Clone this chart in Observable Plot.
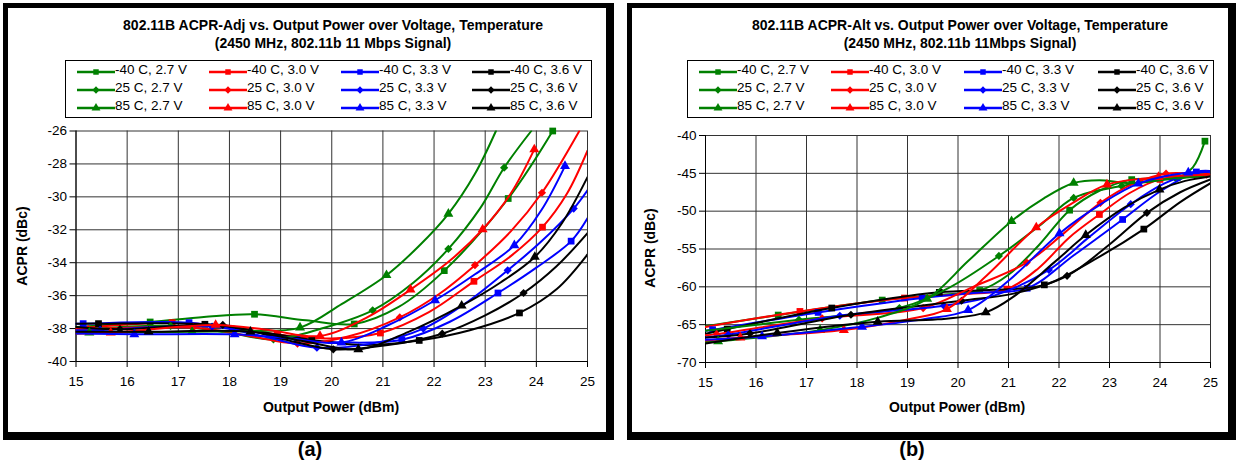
<!DOCTYPE html>
<html><head><meta charset="utf-8">
<script src="https://cdn.jsdelivr.net/npm/d3@7"></script>
<script src="https://cdn.jsdelivr.net/npm/@observablehq/plot@0.6"></script>
<style>
body{margin:0;background:#fff}
#root{position:relative;width:1236px;height:466px;overflow:hidden;font-family:"Liberation Sans",Arial,sans-serif;color:#000;background:#fff}
.frame{position:absolute;box-sizing:border-box;border-style:solid;border-color:#000;border-width:5px 8px 8px 5px}
.t{position:absolute;white-space:nowrap;transform:translate(-50%,-50%);line-height:1}
.b{font-weight:bold}
.lgbox{position:absolute;box-sizing:border-box;border:1px solid #000;background:#fff}
.lgtext{position:absolute;white-space:nowrap;font-size:13.5px;line-height:1;transform:translateY(-50%)}
.lgsym{position:absolute}
.chart{position:absolute}
</style></head>
<body><div id="root"></div>
<script>
// ---------- shared categories ----------
const seriesNames = ["-40 C, 2.7 V","-40 C, 3.0 V","-40 C, 3.3 V","-40 C, 3.6 V",
                     "25 C, 2.7 V","25 C, 3.0 V","25 C, 3.3 V","25 C, 3.6 V",
                     "85 C, 2.7 V","85 C, 3.0 V","85 C, 3.3 V","85 C, 3.6 V"];
const seriesColors = ["#008000","#ff0000","#0000ff","#000000",
                      "#008000","#ff0000","#0000ff","#000000",
                      "#008000","#ff0000","#0000ff","#000000"];
const seriesSymbols = ["square","square","square","square",
                       "diamond2","diamond2","diamond2","diamond2",
                       "triangle","triangle","triangle","triangle"];
const xTicks = [15,16,17,18,19,20,21,22,23,24,25];
const yTicksAdj = [-40,-38,-36,-34,-32,-30,-28,-26];
const yTicksAlt = [-70,-65,-60,-55,-50,-45,-40];

// ---------- panel (a) ACPR-Adj : [x (dBm), y (dBc), marker] ----------
const adj_m40_27 = [[15,-37.9],[16.45,-37.6,1],[17.5,-37.3],[18.49,-37.13,1],[19.5,-37.5],[20.44,-37.72,1],[21.3,-36.7],[22.2,-34.48,1],[23.45,-30.1,1],[24.32,-26.0,1]];
const adj_m40_30 = [[15,-38.0],[16.88,-37.64,1],[18.0,-37.9],[18.93,-38.35,1],[20.0,-38.6],[20.95,-38.27,1],[21.9,-37.0],[22.78,-35.13,1],[23.5,-33.6],[24.12,-31.84,1],[24.6,-29.8],[25,-27.2]];
const adj_m40_33 = [[15,-37.7],[15.14,-37.70,1],[17.21,-37.64,1],[18.3,-38.1],[19.32,-38.65,1],[20.3,-38.85],[21.37,-38.68,1],[22.3,-37.6],[23.25,-35.84,1],[24.0,-34.3],[24.68,-32.69,1],[25,-31.3]];
const adj_m40_36 = [[15,-37.7],[15.44,-37.70,1],[17.52,-37.74,1],[18.6,-38.2],[19.61,-38.69,1],[20.6,-39.0],[21.71,-38.72,1],[22.7,-38.1],[23.67,-37.05,1],[24.4,-35.6],[25,-33.5]];
const adj_25_27  = [[15,-38.1],[16.85,-37.84,1],[17.9,-38.2],[18.86,-38.65,1],[19.8,-38.0],[20.8,-36.89,1],[21.6,-35.2],[22.28,-33.16,1],[22.9,-30.7],[23.37,-28.23,1],[23.9,-26]];
const adj_25_30  = [[15,-38.1],[15.24,-38.04,1],[17.29,-37.94,1],[18.3,-38.4],[19.33,-38.91,1],[20.3,-38.5],[21.33,-37.32,1],[22.1,-35.9],[22.8,-34.15,1],[23.5,-32.1],[24.11,-29.75,1],[24.84,-26]];
const adj_25_33  = [[15,-38.1],[15.47,-38.08,1],[17.66,-37.88,1],[18.7,-38.5],[19.71,-39.16,1],[20.8,-38.9],[21.79,-38.0,1],[22.6,-36.5],[23.44,-34.46,1],[24.1,-32.7],[24.73,-30.71,1],[25,-29.6]];
const adj_25_36  = [[15,-37.9],[15.86,-38.04,1],[17.87,-37.78,1],[19.0,-38.6],[20.03,-39.26,1],[21.1,-39.0],[22.16,-38.31,1],[23.0,-37.2],[23.75,-35.84,1],[24.4,-34.2],[25,-32.2]];
const adj_85_27  = [[15,-38.3],[15.26,-38.25,1],[17.27,-38.19,1],[18.4,-38.15],[19.38,-37.94,1],[20.2,-36.5],[21.07,-34.76,1],[21.7,-33.0],[22.28,-31.03,1],[22.8,-28.6],[23.21,-26]];
const adj_85_30  = [[15,-38.3],[15.68,-38.25,1],[17.73,-37.78,1],[18.8,-38.1],[19.77,-38.45,1],[20.7,-37.3],[21.54,-35.63,1],[22.3,-33.9],[22.95,-31.98,1],[23.5,-29.8],[23.96,-27.12,1]];
const adj_85_33  = [[15,-38.3],[16.14,-38.35,1],[18.1,-38.35,1],[19.2,-38.6],[20.19,-38.85,1],[21.1,-37.8],[22.02,-36.28,1],[22.8,-34.7],[23.57,-32.94,1],[24.1,-30.8],[24.56,-28.13,1]];
const adj_85_36  = [[15,-38.2],[16.42,-38.19,1],[18.41,-38.19,1],[19.5,-38.8],[20.52,-39.26,1],[21.5,-38.2],[22.54,-36.61,1],[23.3,-35.2],[23.97,-33.65,1],[24.5,-31.6],[25,-28.8]];

// ---------- panel (b) ACPR-Alt ----------
const alt_m40_27 = [[15,-65.2],[16.44,-63.73,1],[18.5,-61.75,1],[19.5,-61.1],[20.43,-60.48,1],[21.0,-58.4],[21.6,-54.5],[22.21,-49.87,1],[22.8,-47.3],[23.44,-45.83,1],[24.34,-45.57,1],[24.65,-44.2],[24.89,-40.75,1]];
const alt_m40_30 = [[15,-65.3],[16.87,-63.25,1],[18.94,-61.48,1],[20.0,-61.0],[20.97,-60.3,1],[21.6,-57.5],[22.2,-53.5],[22.8,-50.44,1],[23.4,-47.6],[24.0,-45.8,1],[25,-45.3]];
const alt_m40_33 = [[15,-65.8],[15.14,-65.67,1],[17.23,-63.38,1],[19.29,-61.48,1],[20.3,-60.8],[21.37,-60.18,1],[22.3,-55.8],[23.26,-51.1,1],[24.0,-47.4],[24.72,-44.82,1],[25,-44.7]];
const alt_m40_36 = [[15,-66.2],[15.43,-65.59,1],[17.5,-62.8,1],[19.63,-60.73,1],[20.7,-60.4],[21.71,-59.74,1],[22.7,-56.4],[23.68,-52.37,1],[24.4,-48.8],[25,-46.3]];
const alt_25_27  = [[15,-65.8],[16.85,-64.35,1],[18.84,-62.8,1],[19.8,-60.2],[20.81,-55.92,1],[21.6,-52.0],[22.29,-48.25,1],[23.24,-46.67,1],[24.0,-45.9],[25,-45.3]];
const alt_25_30  = [[15,-66.4],[15.22,-66.25,1],[17.31,-64.17,1],[19.31,-62.8,1],[20.3,-60.0],[21.36,-56.8,1],[22.1,-52.9],[22.82,-48.9,1],[23.5,-46.3],[24.12,-45.04,1],[24.92,-45.18,1],[25,-45.2]];
const alt_25_33  = [[15,-66.7],[15.45,-66.34,1],[17.66,-63.82,1],[19.72,-62.5,1],[20.7,-61.2],[21.8,-57.76,1],[22.6,-53.4],[23.42,-49.08,1],[24.1,-46.3],[24.71,-44.96,1],[25,-44.8]];
const alt_25_36  = [[15,-66.7],[15.88,-66.16,1],[17.88,-63.69,1],[20.07,-61.84,1],[21.1,-60.9],[22.16,-58.55,1],[23.0,-54.4],[23.74,-50.22,1],[24.4,-47.5],[25,-45.8]];
const alt_85_27  = [[15,-67.3],[15.25,-67.2,1],[17.27,-65.72,1],[18.4,-64.1],[19.39,-61.6,1],[20.2,-56.6],[21.06,-51.32,1],[21.7,-48.3],[22.29,-46.27,1],[22.8,-45.9],[23.4,-46.3],[24.2,-45.7],[25,-45.2]];
const alt_85_30  = [[15,-67.1],[15.69,-66.7,1],[17.74,-65.72,1],[19.0,-64.3],[19.78,-62.94,1],[20.6,-58.3],[21.55,-52.15,1],[22.3,-48.8],[22.95,-46.49,1],[23.97,-45.5,1],[25,-45.2]];
const alt_85_33  = [[15,-67.0],[16.12,-66.56,1],[18.1,-65.28,1],[19.3,-64.3],[20.2,-63.07,1],[21.0,-59.2],[22.01,-52.94,1],[22.8,-49.2],[23.57,-46.36,1],[24.56,-44.9,1],[25,-44.8]];
const alt_85_36  = [[15,-67.5],[16.42,-66.1,1],[18.41,-64.62,1],[19.6,-64.3],[20.55,-63.38,1],[21.1,-61.3],[21.9,-56.8],[22.53,-53.16,1],[23.3,-49.5],[23.99,-47.15,1],[24.5,-46.0],[25,-45.4]];

const adjSeries = [adj_m40_27,adj_m40_30,adj_m40_33,adj_m40_36,adj_25_27,adj_25_30,adj_25_33,adj_25_36,adj_85_27,adj_85_30,adj_85_33,adj_85_36];
const altSeries = [alt_m40_27,alt_m40_30,alt_m40_33,alt_m40_36,alt_25_27,alt_25_30,alt_25_33,alt_25_36,alt_85_27,alt_85_30,alt_85_33,alt_85_36];

const titleA = ["802.11B ACPR-Adj vs. Output Power over Voltage, Temperature","(2450 MHz, 802.11b 11 Mbps Signal)"];
const titleB = ["802.11B ACPR-Alt vs. Output Power over Voltage, Temperature","(2450 MHz, 802.11b 11Mbps Signal)"];
const yTitle = "ACPR (dBc)";
const xTitle = "Output Power (dBm)";
const panelLabels = ["(a)","(b)"];

// ---------- drawing ----------
const root = document.getElementById("root");
const symR = {square:3.8, diamond2:3.7, triangle:3.7};

function add(html){ root.insertAdjacentHTML("beforeend", html); }

function makeChart(seriesData, cfg){
  const marks = [
    Plot.gridX(xTicks, {stroke:"#333", strokeOpacity:1, strokeWidth:1}),
    Plot.gridY(cfg.yTicks, {stroke:"#333", strokeOpacity:1, strokeWidth:1}),
    Plot.axisX(xTicks, {tickSize:6, tickPadding:9, tickFormat:d=>String(d), label:null, fontSize:13.5}),
    Plot.axisY(cfg.yTicks, {tickSize:6, tickPadding:3, tickFormat:d=>String(d), label:null, fontSize:13.5}),
    Plot.ruleX([15], {stroke:"#000"}),
    Plot.ruleY([cfg.yDomain[0]], {stroke:"#000"})
  ];
  seriesData.forEach((arr,i)=>{
    const rows = arr.map(([x,y,m])=>({x,y,m:!!m}));
    marks.push(Plot.line(rows, {x:"x", y:"y", stroke:seriesColors[i], strokeWidth:2, curve:"catmull-rom", clip:true}));
    marks.push(Plot.dot(rows.filter(d=>d.m), {x:"x", y:"y", symbol:seriesSymbols[i], fill:seriesColors[i], stroke:"none", r:symR[seriesSymbols[i]]}));
  });
  const svg = Plot.plot({
    width: cfg.width, height: cfg.height,
    marginLeft: cfg.ml, marginRight: cfg.mr, marginTop: cfg.mt, marginBottom: cfg.mb,
    x:{domain:[15,25]}, y:{domain:cfg.yDomain},
    style:{fontFamily:'"Liberation Sans", Arial, sans-serif', fontSize:"13.5px", color:"#000", background:"transparent", overflow:"visible"},
    marks
  });
  svg.classList.add("chart");
  svg.style.left = cfg.left + "px";
  svg.style.top = cfg.top + "px";
  root.appendChild(svg);
}

function legendSym(symbol, color){
  const typ = symbol==="square" ? d3.symbolSquare : symbol==="diamond2" ? d3.symbolDiamond2 : d3.symbolTriangle;
  const size = symbol==="square" ? 30 : 34;
  const p = d3.symbol(typ, size)();
  return `<svg width="38" height="12" viewBox="0 0 38 12"><line x1="0" y1="6" x2="38" y2="6" stroke="${color}" stroke-width="2.5"/><path d="${p}" transform="translate(19,6)" fill="${color}"/></svg>`;
}

function panel(cfg, seriesData){
  add(`<div class="frame" style="left:${cfg.fl}px;top:3px;width:${cfg.fw}px;height:437px"></div>`);
  add(`<div class="t b" style="left:${cfg.tc}px;top:25px;font-size:14px">${cfg.title[0]}</div>`);
  add(`<div class="t b" style="left:${cfg.tc}px;top:43px;font-size:14px">${cfg.title[1]}</div>`);
  add(`<div class="lgbox" style="left:${cfg.lx}px;top:60px;width:527px;height:58px"></div>`);
  const rowsY = [70,88,106];
  seriesNames.forEach((n,i)=>{
    const r = Math.floor(i/4), c = i%4;
    const x0 = cfg.lcols[c];
    add(`<div class="lgsym" style="left:${x0}px;top:${rowsY[r]-6}px">${legendSym(seriesSymbols[i], seriesColors[i])}</div>`);
    add(`<div class="lgtext" style="left:${x0+38}px;top:${rowsY[r]}px">${n}</div>`);
  });
  makeChart(seriesData, cfg);
  add(`<div class="t b" style="left:${cfg.yx}px;top:${cfg.yy}px;font-size:14px;transform:translate(-50%,-50%) rotate(-90deg)">${yTitle}</div>`);
  add(`<div class="t b" style="left:${cfg.xx}px;top:407px;font-size:14px">${xTitle}</div>`);
  add(`<div class="t b" style="left:${cfg.pl}px;top:449px;font-size:20px">${cfg.label}</div>`);
}

panel({fl:3, fw:611, tc:333, title:titleA, lx:65, lcols:[77,209,341,472],
  width:620, height:340, left:0, top:100, ml:75.5, mr:33, mt:30.5, mb:79,
  yDomain:[-40,-26], yTicks:yTicksAdj, yx:22, yy:246, xx:331, pl:310, label:panelLabels[0]}, adjSeries);

panel({fl:627, fw:609, tc:960, title:titleB, lx:687, lcols:[699,831,964,1098],
  width:616, height:340, left:620, top:100, ml:85, mr:26, mt:35, mb:78,
  yDomain:[-70,-40], yTicks:yTicksAlt, yx:650, yy:248, xx:957, pl:912, label:panelLabels[1]}, altSeries);
</script>
</body></html>
